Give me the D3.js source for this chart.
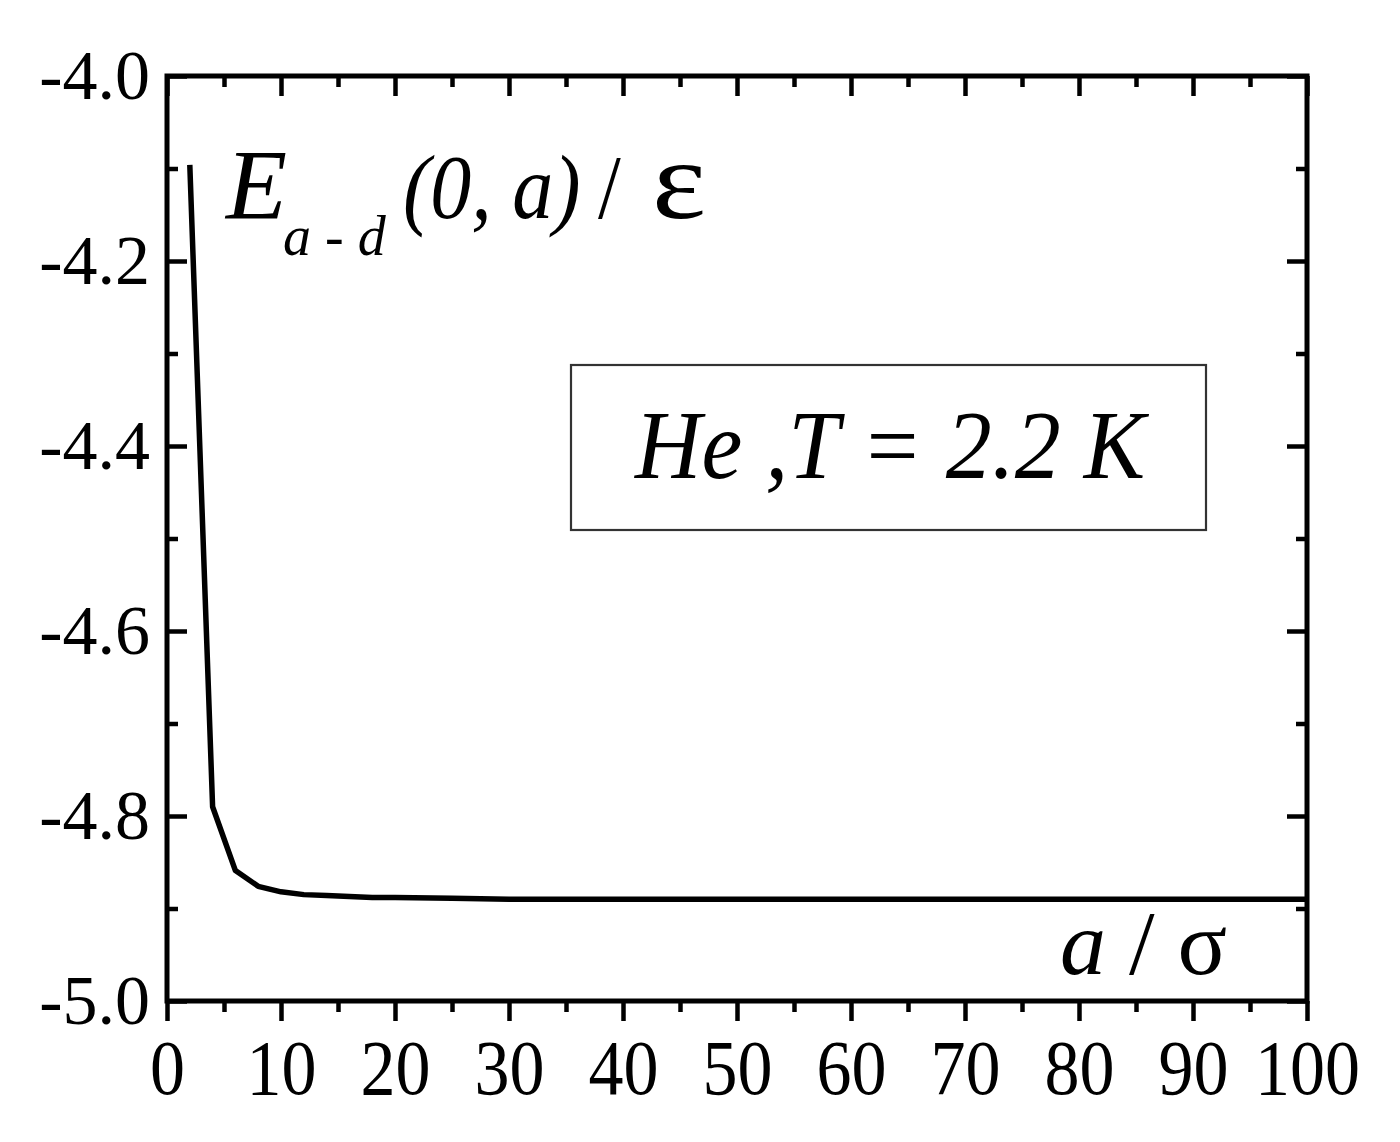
<!DOCTYPE html>
<html>
<head>
<meta charset="utf-8">
<script src="https://cdn.jsdelivr.net/npm/d3@7"></script>
<style>
  html, body { margin: 0; padding: 0; background: #fff; }
  svg { display: block; }
  text { font-family: "Liberation Serif", "Times New Roman", serif; fill: #000; }
</style>
</head>
<body>
<svg id="chart" width="1400" height="1142"></svg>
<script>
// ---- data ----
const xValues = [2, 4, 6, 8, 10, 12, 14, 16, 18, 20, 25, 30, 40, 50, 60, 70, 80, 90, 100];
const energyValues = [-4.096, -4.790, -4.859, -4.876, -4.882, -4.885, -4.886, -4.887, -4.888, -4.888, -4.889, -4.890, -4.890, -4.890, -4.890, -4.890, -4.890, -4.890, -4.890];
const xTickValues = [0, 10, 20, 30, 40, 50, 60, 70, 80, 90, 100];
const xMinorTicks = [5, 15, 25, 35, 45, 55, 65, 75, 85, 95];
const yTickValues = [-4.0, -4.2, -4.4, -4.6, -4.8, -5.0];
const yMinorTicks = [-4.1, -4.3, -4.5, -4.7, -4.9];
const legendText = "He ,T = 2.2 K";

// ---- layout ----
const plot = { left: 167, right: 1307, top: 76, bottom: 1001 };
const svg = d3.select("#chart");

const x = d3.scaleLinear().domain([0, 100]).range([plot.left, plot.right]);
const y = d3.scaleLinear().domain([-5.0, -4.0]).range([plot.bottom, plot.top]);

const tickFont = 70;
const majorLen = 20, minorLen = 11;

function styleAxis(g) {
  g.select(".domain").remove();
  g.selectAll(".tick line").attr("stroke", "#000").attr("stroke-width", 4.5);
  g.selectAll(".tick text").attr("font-size", tickFont)
    .attr("font-family", "Liberation Serif, Times New Roman, serif").attr("fill", "#000");
}

// bottom axis: outward ticks with labels
svg.append("g").attr("transform", `translate(0,${plot.bottom})`)
  .call(d3.axisBottom(x).tickValues(xTickValues).tickSize(majorLen).tickFormat(d3.format("d")))
  .call(styleAxis)
  .call(g => g.selectAll(".tick text")
    .attr("y", null).attr("dy", null)
    .attr("transform", "translate(0,93) scale(1,1.13)"));
svg.append("g").attr("transform", `translate(0,${plot.bottom})`)
  .call(d3.axisBottom(x).tickValues(xMinorTicks).tickSize(minorLen).tickFormat(""))
  .call(styleAxis);

// top axis: inward ticks
svg.append("g").attr("transform", `translate(0,${plot.top})`)
  .call(d3.axisTop(x).tickValues(xTickValues).tickSize(-majorLen).tickFormat(""))
  .call(styleAxis);
svg.append("g").attr("transform", `translate(0,${plot.top})`)
  .call(d3.axisTop(x).tickValues(xMinorTicks).tickSize(-minorLen).tickFormat(""))
  .call(styleAxis);

// left axis: inward ticks, labels outside
svg.append("g").attr("transform", `translate(${plot.left},0)`)
  .call(d3.axisLeft(y).tickValues(yTickValues).tickSize(-majorLen).tickPadding(17).tickFormat(d3.format(".1f")))
  .call(styleAxis);
svg.append("g").attr("transform", `translate(${plot.left},0)`)
  .call(d3.axisLeft(y).tickValues(yMinorTicks).tickSize(-minorLen).tickFormat(""))
  .call(styleAxis);

// right axis: inward ticks
svg.append("g").attr("transform", `translate(${plot.right},0)`)
  .call(d3.axisRight(y).tickValues(yTickValues).tickSize(-majorLen).tickFormat(""))
  .call(styleAxis);
svg.append("g").attr("transform", `translate(${plot.right},0)`)
  .call(d3.axisRight(y).tickValues(yMinorTicks).tickSize(-minorLen).tickFormat(""))
  .call(styleAxis);

// hyphen-like minus as in the reference
svg.selectAll(".tick text").text(function() { return d3.select(this).text().replace("−", "-"); });

// frame
svg.append("rect")
  .attr("x", plot.left).attr("y", plot.top)
  .attr("width", plot.right - plot.left).attr("height", plot.bottom - plot.top)
  .attr("fill", "none").attr("stroke", "#000").attr("stroke-width", 5);

// curve
const line = d3.line().x((d, i) => x(xValues[i])).y(d => y(d));
svg.append("path")
  .datum(energyValues)
  .attr("d", line)
  .attr("fill", "none").attr("stroke", "#000").attr("stroke-width", 5.5)
  .attr("stroke-linejoin", "round");

// y-label annotation: E_{a-d}(0, a) / ε
svg.append("text").attr("x", 226).attr("y", 218).attr("font-size", 100)
  .attr("font-style", "italic").text("E");
svg.append("text").attr("x", 283).attr("y", 255).attr("font-size", 56)
  .attr("font-style", "italic").text("a - d");
svg.append("text").attr("transform", "translate(403,218) scale(1,1.12)").attr("font-size", 82)
  .attr("font-style", "italic").text("(0, a)");
svg.append("text").attr("transform", "translate(598,218) scale(1,1.12)").attr("font-size", 82)
  .text("/");
svg.append("text").attr("transform", "translate(652,218) scale(1.15,1)").attr("font-size", 112)
  .text("ε");

// x-label annotation: a / σ
const xlab = svg.append("text").attr("x", 1060).attr("y", 974).attr("font-size", 92);
xlab.append("tspan").attr("font-style", "italic").text("a");
xlab.append("tspan").text(" / σ");

// legend box
svg.append("rect")
  .attr("x", 571).attr("y", 365).attr("width", 635).attr("height", 165)
  .attr("fill", "none").attr("stroke", "#333").attr("stroke-width", 2.2);
svg.append("text").attr("transform", "translate(635,478) scale(1,1.05)").attr("font-size", 92)
  .attr("font-style", "italic").text(legendText);
</script>
</body>
</html>
